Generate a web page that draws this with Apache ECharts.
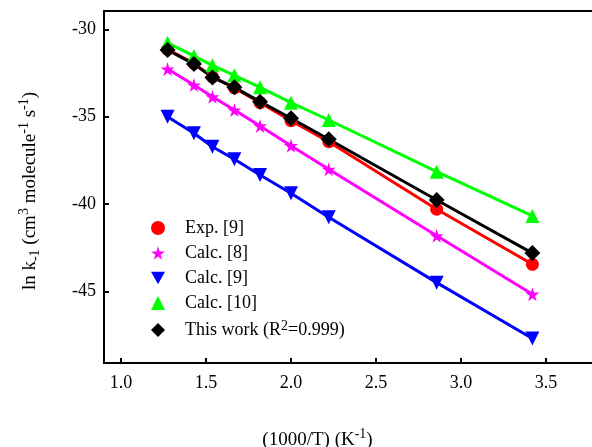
<!DOCTYPE html>
<html>
<head>
<meta charset="utf-8">
<script src="https://cdn.jsdelivr.net/npm/echarts@6/dist/echarts.min.js"></script>
<style>
  html, body { margin: 0; padding: 0; background: #fff; }
  #arrhenius { width: 592px; height: 447px; }
</style>
</head>
<body>
<div id="arrhenius"></div>
<script>
// 1000/T values (K^-1)
var invT = [1.274, 1.429, 1.538, 1.667, 1.818, 2.0, 2.222, 2.857, 3.42];

// ln k-1 for each data set
var exp9 = [-31.15, -31.95, -32.72, -33.35, -34.2, -35.23, -36.43, -40.3, -43.45];
var calc8 = [-32.27, -33.19, -33.86, -34.62, -35.53, -36.66, -38.01, -41.82, -45.16];
var calc9 = [-35.0, -35.95, -36.72, -37.44, -38.34, -39.38, -40.76, -44.5, -47.7];
var calc10 = [-30.77, -31.53, -32.06, -32.63, -33.32, -34.2, -35.19, -38.15, -40.68];
var thisWork = [-31.18, -31.99, -32.75, -33.32, -34.14, -35.09, -36.29, -39.77, -42.81];

var seriesNames = ['Exp. [9]', 'Calc. [8]', 'Calc. [9]', 'Calc. [10]', 'This work (R{sup|2}=0.999)'];
var xTicks = [1.0, 1.5, 2.0, 2.5, 3.0, 3.5];
var yTicks = [-45, -40, -35, -30];

var starPath = 'path://M50,0 L61,35 L98,35 L68,57 L79,91 L50,70 L21,91 L32,57 L2,35 L39,35 Z';
var downTri = 'path://M0,0 L10,0 L5,9 Z';

function pairs(ys) {
  var out = [];
  for (var i = 0; i < invT.length; i++) {
    out.push([invT[i], ys[i]]);
  }
  return out;
}

var font = 'Liberation Serif';
var supStyle = { fontFamily: font, fontSize: 14, padding: [0, 0, 12, 0] };
var subStyle = { fontFamily: font, fontSize: 14, padding: [10, 0, 0, 0] };
var chart = echarts.init(document.getElementById('arrhenius'));

var option = {
  animation: false,
  grid: {
    left: 104, top: 11, right: -5, bottom: 84,
    outerBoundsMode: 'none',
    show: true, borderColor: '#000', borderWidth: 2
  },
  legend: {
    orient: 'vertical',
    left: 146,
    top: 214,
    itemWidth: 14,
    itemHeight: 14,
    itemGap: 7,
    textStyle: {
      fontFamily: font, fontSize: 18, color: '#000',
      padding: [0, 0, 0, 15],
      rich: { sup: { fontFamily: font, fontSize: 14, padding: [0, 0, 8, 0] } }
    },
    data: [
      { name: seriesNames[0], icon: 'circle' },
      { name: seriesNames[1], icon: starPath },
      { name: seriesNames[2], icon: downTri },
      { name: seriesNames[3], icon: 'triangle' },
      { name: seriesNames[4], icon: 'diamond' }
    ]
  },
  xAxis: {
    type: 'value',
    min: 0.9,
    max: 3.8,
    name: '(1000/T) (K{sup|-1})',
    nameLocation: 'middle',
    nameGap: 64,
    nameTextStyle: {
      fontFamily: font, fontSize: 19, color: '#000',
      padding: [0, 66, 0, 0],
      rich: { sup: supStyle }
    },
    axisLine: { lineStyle: { color: '#000', width: 2 } },
    axisTick: { inside: true, length: 5, lineStyle: { color: '#000', width: 2 }, customValues: xTicks },
    axisLabel: {
      fontFamily: font, fontSize: 18, color: '#000', margin: 11,
      customValues: xTicks,
      formatter: function (v) { return v.toFixed(1); }
    },
    splitLine: { show: false }
  },
  yAxis: {
    type: 'value',
    min: -49.1,
    max: -28.95,
    name: 'ln k{sub|-1} (cm{sup|3} molecule{sup|-1} s{sup|-1})',
    nameLocation: 'middle',
    nameGap: 61,
    nameTextStyle: {
      fontFamily: font, fontSize: 19, color: '#000',
      padding: [0, 8, 0, 0],
      rich: { sup: supStyle, sub: subStyle }
    },
    axisLine: { show: true, lineStyle: { color: '#000', width: 2 } },
    axisTick: { show: true, inside: true, length: 5, lineStyle: { color: '#000', width: 2 }, customValues: yTicks },
    axisLabel: {
      fontFamily: font, fontSize: 18, color: '#000', margin: 8,
      customValues: yTicks
    },
    splitLine: { show: false }
  },
  series: [
    {
      name: seriesNames[0], type: 'line', data: pairs(exp9),
      symbol: 'circle', symbolSize: 13,
      lineStyle: { color: '#ff0000', width: 3 },
      itemStyle: { color: '#ff0000' }
    },
    {
      name: seriesNames[1], type: 'line', data: pairs(calc8),
      symbol: starPath, symbolSize: 14,
      lineStyle: { color: '#ff00ff', width: 3 },
      itemStyle: { color: '#ff00ff' }
    },
    {
      name: seriesNames[2], type: 'line', data: pairs(calc9),
      symbol: 'triangle', symbolRotate: 180, symbolSize: 14,
      lineStyle: { color: '#0000ff', width: 3 },
      itemStyle: { color: '#0000ff' }
    },
    {
      name: seriesNames[3], type: 'line', data: pairs(calc10),
      symbol: 'triangle', symbolSize: 14,
      lineStyle: { color: '#00ff00', width: 3 },
      itemStyle: { color: '#00ff00' }
    },
    {
      name: seriesNames[4], type: 'line', data: pairs(thisWork),
      symbol: 'diamond', symbolSize: 16,
      lineStyle: { color: '#000000', width: 3 },
      itemStyle: { color: '#000000' }
    }
  ]
};

option && chart.setOption(option);
</script>
</body>
</html>
